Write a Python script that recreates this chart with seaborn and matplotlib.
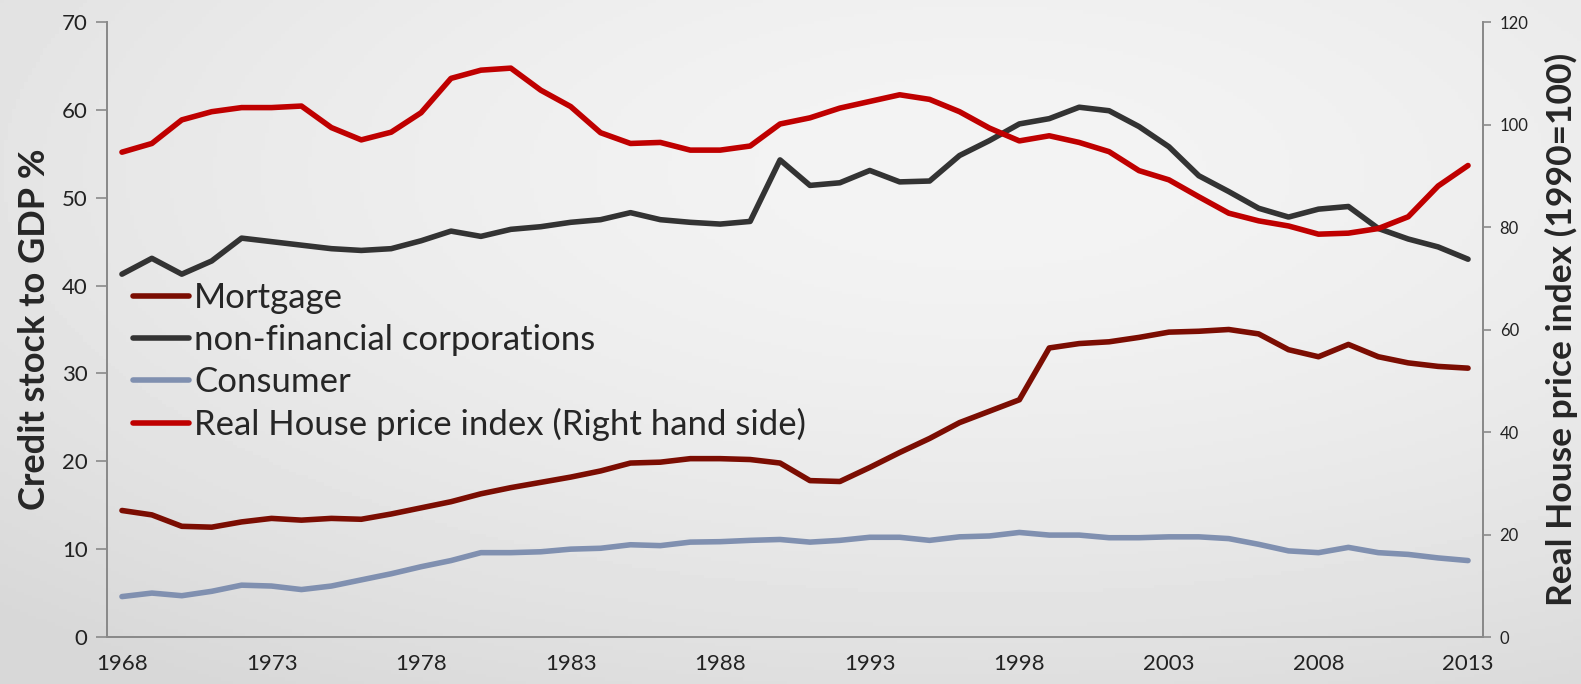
import numpy as np
import matplotlib
matplotlib.use("Agg")
import matplotlib.pyplot as plt
import seaborn as sns

# ---------------- data ----------------
years = list(range(1968, 2014))

mortgage = [14.4, 13.9, 12.6, 12.5, 13.1, 13.5, 13.3, 13.5, 13.4, 14.0,
            14.7, 15.4, 16.3, 17.0, 17.6, 18.2, 18.9, 19.8, 19.9, 20.3,
            20.3, 20.2, 19.8, 17.8, 17.7, 19.3, 21.0, 22.6, 24.4, 25.7,
            27.0, 32.9, 33.4, 33.6, 34.1, 34.7, 34.8, 35.0, 34.5, 32.7,
            31.9, 33.3, 31.9, 31.2, 30.8, 30.6]

corporations = [41.3, 43.1, 41.3, 42.8, 45.4, 45.0, 44.6, 44.2, 44.0, 44.2,
                45.1, 46.2, 45.6, 46.4, 46.7, 47.2, 47.5, 48.3, 47.5, 47.2,
                47.0, 47.3, 54.3, 51.4, 51.7, 53.1, 51.8, 51.9, 54.8, 56.5,
                58.4, 59.0, 60.3, 59.9, 58.1, 55.8, 52.5, 50.7, 48.8, 47.8,
                48.7, 49.0, 46.5, 45.3, 44.4, 43.0]

consumer = [4.6, 5.0, 4.7, 5.2, 5.9, 5.8, 5.4, 5.8, 6.5, 7.2,
            8.0, 8.7, 9.6, 9.6, 9.7, 10.0, 10.1, 10.5, 10.4, 10.8,
            10.85, 11.0, 11.1, 10.8, 11.0, 11.35, 11.35, 11.0, 11.4, 11.5,
            11.9, 11.6, 11.6, 11.3, 11.3, 11.4, 11.4, 11.2, 10.55, 9.8,
            9.6, 10.2, 9.6, 9.4, 9.0, 8.7]

house_price = [94.6, 96.3, 100.9, 102.5, 103.3, 103.3, 103.6, 99.4, 97.0, 98.5,
               102.3, 109.0, 110.6, 111.0, 106.7, 103.5, 98.4, 96.3, 96.5, 95.0,
               95.0, 95.8, 100.1, 101.3, 103.2, 104.5, 105.8, 104.9, 102.5, 99.3,
               96.8, 97.8, 96.5, 94.7, 91.0, 89.2, 85.9, 82.7, 81.2, 80.2,
               78.6, 78.8, 79.7, 82.0, 88.0, 92.0]

left_ticks = [0, 10, 20, 30, 40, 50, 60, 70]
right_ticks = [0, 20, 40, 60, 80, 100, 120]
year_labels = years[::5]

# ---------------- style ----------------
sns.set_style("white")
plt.rcParams['font.family'] = ['Lato', 'DejaVu Sans']

fig = plt.figure(figsize=(15.81, 6.84), dpi=100)

# paper-like grey background with a soft vignette
bg = fig.add_axes([0, 0, 1, 1], zorder=-10)
gx, gy = np.meshgrid(np.linspace(0, 1, 400), np.linspace(0, 1, 200))
dist = np.sqrt(((gx - 0.62) / 0.9) ** 2 + ((gy - 0.25) / 0.9) ** 2)
shade = 0.955 - 0.11 * np.clip(dist, 0, 1) ** 1.6
bg.imshow(shade, cmap="gray", vmin=0, vmax=1, aspect="auto",
          extent=[0, 1, 0, 1], origin="upper")
bg.axis("off")

ax = fig.add_axes([107 / 1581, 1 - 637 / 684, (1483 - 107) / 1581, (637 - 22) / 684])
ax.patch.set_alpha(0)
ax2 = ax.twinx()
ax2.patch.set_alpha(0)

lw = 4.0
sns.lineplot(x=years, y=mortgage, ax=ax, color="#7b0d02", lw=lw, label="Mortgage",
             solid_capstyle="round", legend=False)
sns.lineplot(x=years, y=corporations, ax=ax, color="#333333", lw=lw,
             label="non-financial corporations", solid_capstyle="round", legend=False)
sns.lineplot(x=years, y=consumer, ax=ax, color="#8090b0", lw=lw, label="Consumer",
             solid_capstyle="round", legend=False)
sns.lineplot(x=years, y=house_price, ax=ax2, color="#bf0000", lw=lw,
             label="Real House price index (Right hand side)",
             solid_capstyle="round", legend=False)

ax.set_xlim(1967.5, 2013.5)
ax.set_ylim(0, 70)
ax2.set_ylim(0, 120)

ax.set_xticks(year_labels)
ax.set_xticklabels([str(y) for y in year_labels])
ax.set_xticks([y - 0.5 for y in year_labels], minor=True)
ax.tick_params(axis="x", which="major", length=0, labelsize=16, pad=12, colors="#222222")
ax.tick_params(axis="x", which="minor", length=8, width=1.2, color="#8a8a8a")
ax.set_yticks(left_ticks)
ax.tick_params(axis="y", length=8, width=1.2, color="#8a8a8a", labelsize=16, pad=6,
               labelcolor="#222222")
ax2.set_yticks(right_ticks)
ax2.tick_params(axis="y", length=6, width=1.2, color="#8a8a8a", labelsize=12, pad=6,
                labelcolor="#222222")

for a in (ax, ax2):
    a.spines["top"].set_visible(False)
    for s in ("left", "right", "bottom"):
        a.spines[s].set_color("#8a8a8a")
        a.spines[s].set_linewidth(1.3)

ax.set_ylabel("Credit stock to GDP %", fontsize=26, fontweight="bold", labelpad=8)
ax2.set_ylabel("Real House price index (1990=100)", fontsize=25.5, fontweight="bold",
               labelpad=12)

h1, l1 = ax.get_legend_handles_labels()
h2, l2 = ax2.get_legend_handles_labels()
leg = ax2.legend(h1 + h2, l1 + l2, loc="upper left", bbox_to_anchor=(0.019, 0.577),
                 frameon=False, fontsize=25, handlelength=1.6, handletextpad=0.15,
                 labelspacing=0.29, borderpad=0, borderaxespad=0)

fig.savefig("out.png", dpi=100)
